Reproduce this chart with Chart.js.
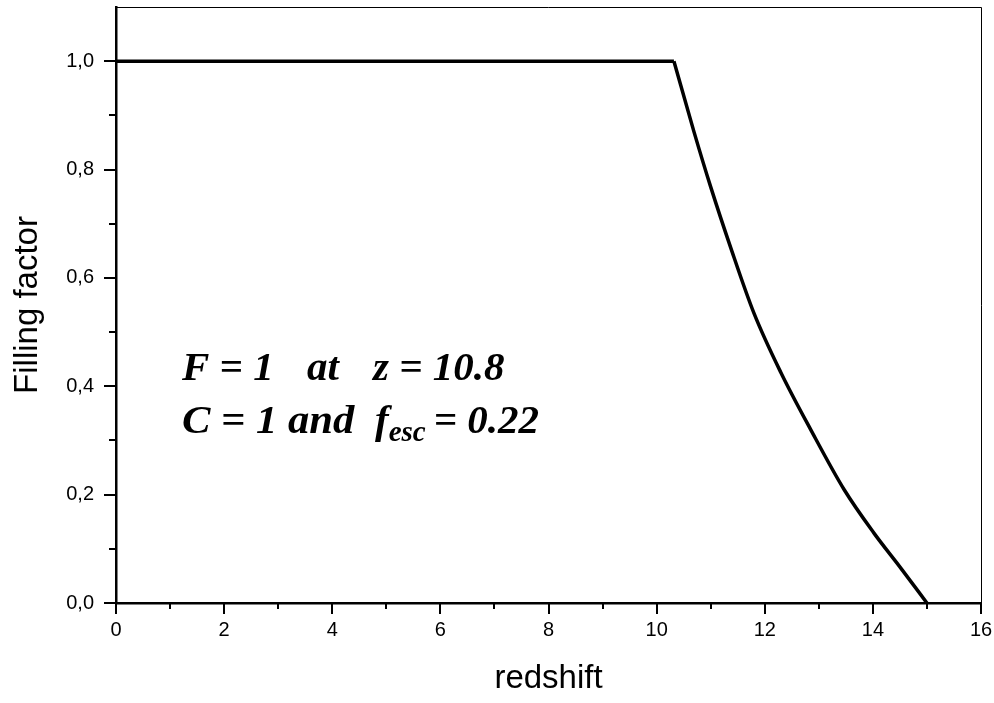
<!DOCTYPE html>
<html>
<head>
<meta charset="utf-8">
<script src="https://cdn.jsdelivr.net/npm/chart.js@4"></script>
<style>
  html, body { margin: 0; padding: 0; background: #fff; }
  #wrap { width: 994px; height: 703px; }
</style>
</head>
<body>
<div id="wrap"><canvas id="fillChart" width="994" height="703"></canvas></div>
<script>
// filling factor vs redshift
const flatZ = [0, 10.32];
const flatF = [1, 1];
const dropZ = [10.32, 10.69, 11.0, 11.37, 11.80, 12.30, 12.85, 13.47, 14.02, 14.52, 15.0];
const dropF = [1, 0.870, 0.768, 0.656, 0.535, 0.425, 0.320, 0.209, 0.129, 0.064, 0];
const xTicks = [0, 2, 4, 6, 8, 10, 12, 14, 16];
const yTicks = [0, 0.2, 0.4, 0.6, 0.8, 1.0];

const toPts = (xs, ys) => xs.map((x, i) => ({ x: x, y: ys[i] }));
const sans = 'Arial, "Liberation Sans", sans-serif';

// minor/major ticks, thin top+right frame, and the annotation text
const decor = {
  id: 'decor',
  afterDraw(chart) {
    const c = chart.ctx, a = chart.chartArea;
    const xs = chart.scales.x, ys = chart.scales.y;
    c.save();
    c.strokeStyle = '#000';
    c.lineWidth = 1;
    c.beginPath();
    c.moveTo(a.left, a.top + 0.5); c.lineTo(a.right + 0.5, a.top + 0.5);
    c.lineTo(a.right + 0.5, a.bottom);
    c.stroke();

    c.lineWidth = 2;
    c.beginPath();
    for (let v = 0; v <= 16; v += 1) {
      const px = Math.round(xs.getPixelForValue(v));
      const len = v % 2 === 0 ? 11 : 6;
      c.moveTo(px, a.bottom); c.lineTo(px, a.bottom + len);
    }
    for (let k = 0; k <= 10; k++) {
      const py = Math.round(ys.getPixelForValue(k / 10));
      const len = k % 2 === 0 ? 12 : 7;
      c.moveTo(a.left, py); c.lineTo(a.left - len, py);
    }
    c.stroke();

    c.fillStyle = '#000';
    c.textBaseline = 'alphabetic';
    c.textAlign = 'left';
    const big = 'italic bold 41px "Liberation Serif", "Times New Roman", serif';
    const small = 'italic bold 29px "Liberation Serif", "Times New Roman", serif';
    c.font = big;
    c.fillText('F = 1', 182, 380);
    c.fillText('at', 307, 380);
    c.fillText('z = 10.8', 373, 380);
    c.save();
    c.translate(182, 433);
    c.scale(1.04, 1);
    c.fillText('C = 1 and', 0, 0);
    c.restore();
    let x = 375;
    c.fillText('f', x, 433);
    x += c.measureText('f').width;
    c.font = small;
    c.fillText('esc', x, 441);
    x += c.measureText('esc').width + 8;
    c.font = big;
    c.fillText('= 0.22', x, 433);
    c.restore();
  }
};

new Chart(document.getElementById('fillChart'), {
  type: 'scatter',
  data: {
    datasets: [
      {
        data: toPts(flatZ, flatF),
        showLine: true,
        borderColor: '#000',
        borderWidth: 3.5,
        pointRadius: 0,
        tension: 0
      },
      {
        data: toPts(dropZ, dropF),
        showLine: true,
        borderColor: '#000',
        borderWidth: 3.5,
        pointRadius: 0,
        cubicInterpolationMode: 'monotone'
      }
    ]
  },
  options: {
    responsive: false,
    animation: false,
    layout: { padding: { top: 7, right: 13, left: 0, bottom: 0 } },
    plugins: { legend: { display: false }, tooltip: { enabled: false } },
    scales: {
      x: {
        type: 'linear',
        min: 0, max: 16,
        afterBuildTicks: s => { s.ticks = xTicks.map(v => ({ value: v })); },
        afterFit: s => { s.height = 100; s.paddingLeft = 0; s.paddingRight = 0; },
        grid: { drawOnChartArea: false, drawTicks: false },
        border: { color: '#000', width: 2.5 },
        ticks: {
          color: '#000',
          padding: 15,
          maxRotation: 0,
          font: { family: sans, size: 20 }
        },
        title: {
          display: true,
          text: 'redshift',
          color: '#000',
          padding: { top: 12 },
          font: { family: sans, size: 33 }
        }
      },
      y: {
        type: 'linear',
        min: 0, max: 1.1,
        afterBuildTicks: s => { s.ticks = yTicks.map(v => ({ value: v })); },
        afterFit: s => { s.width = 116; s.paddingTop = 0; s.paddingBottom = 0; },
        grid: { drawOnChartArea: false, drawTicks: false },
        border: { color: '#000', width: 2.5 },
        ticks: {
          color: '#000',
          padding: 22,
          callback: v => v.toFixed(1).replace('.', ','),
          font: { family: sans, size: 20 }
        },
        title: {
          display: true,
          text: 'Filling factor',
          color: '#000',
          padding: { top: 8, bottom: 0 },
          font: { family: sans, size: 33 }
        }
      }
    }
  },
  plugins: [decor]
});
</script>
</body>
</html>
